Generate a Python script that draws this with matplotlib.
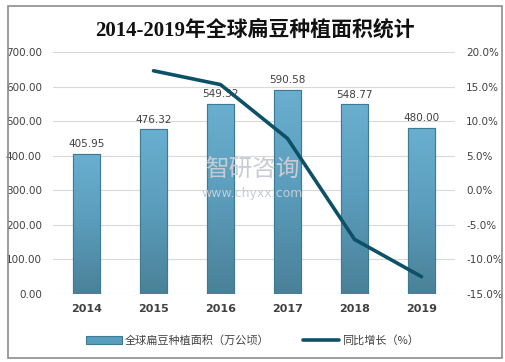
import numpy as np
import matplotlib.pyplot as plt
from matplotlib.colors import LinearSegmentedColormap
from matplotlib.patches import Rectangle

plt.rcParams['font.family'] = ['DejaVu Sans', 'Noto Sans CJK SC']

years = ['2014', '2015', '2016', '2017', '2018', '2019']
area = [405.95, 476.32, 549.32, 590.58, 548.77, 480.00]
growth_years = ['2015', '2016', '2017', '2018', '2019']
growth = [17.3, 15.3, 7.5, -7.1, -12.5]

fig = plt.figure(figsize=(5.05, 3.62), dpi=100)
ax = fig.add_axes([0.105, 0.188, 0.796, 0.668])
ax2 = ax.twinx()

# frame around the whole picture
fig.patches.append(Rectangle((0.015, 0.012), 0.979, 0.972, transform=fig.transFigure,
                             fill=False, edgecolor='#8c8c8c', linewidth=1.2))

x = np.arange(len(years))
w = 0.4
bars = ax.bar(x, area, width=w, color='#5b9dbd', edgecolor='#3f7a95', linewidth=0.8, zorder=2,
              label='全球扁豆种植面积（万公顷）')

# vertical gradient inside each bar
cmap = LinearSegmentedColormap.from_list('b', ['#4a8198', '#5a9cbb', '#6aafd0'])
grad = np.linspace(0, 1, 100).reshape(-1, 1)
for b in bars:
    im = ax.imshow(grad, extent=[b.get_x(), b.get_x() + b.get_width(), 0, b.get_height()],
                   origin='lower', aspect='auto', cmap=cmap, zorder=2.1)
    im.set_clip_path(b)
    ax.add_patch(Rectangle((b.get_x(), 0), b.get_width(), b.get_height(), fill=False,
                           edgecolor='#3f7a95', linewidth=0.8, zorder=2.2))

for xi, v in zip(x, area):
    ax.text(xi, v + 14, f'{v:.2f}', ha='center', va='bottom', fontsize=7.5, color='#404040', zorder=3)

ax.set_xlim(-0.5, len(years) - 0.5)
ax.set_ylim(0, 700)
ax.set_yticks(np.arange(0, 701, 100))
ax.set_yticklabels([f'{v:.2f}' for v in np.arange(0, 701, 100)])
ax.set_xticks(x)
ax.set_xticklabels(years, fontweight='bold')
ax.grid(axis='y', color='#d9d9d9', linewidth=0.8, zorder=0)
ax.set_axisbelow(True)
ax.tick_params(axis='y', length=0, labelsize=7.5, labelcolor='#404040', pad=8)
ax.tick_params(axis='x', length=0, labelsize=8, labelcolor='#404040', pad=7)
ax.set_zorder(ax2.get_zorder() - 1) if False else None

gx = [years.index(y) for y in growth_years]
ax2.plot(gx, growth, color='#0d5166', linewidth=2.6, solid_capstyle='round', zorder=5,
         label='同比增长（%）')
ax2.set_ylim(-15, 20)
ax2.set_yticks(np.arange(-15, 21, 5))
ax2.set_yticklabels([f'{v:.1f}%' for v in np.arange(-15, 21, 5)])
ax2.tick_params(axis='y', length=0, labelsize=7.5, labelcolor='#404040', pad=8)

for a in (ax, ax2):
    for s in a.spines.values():
        s.set_visible(False)

# watermark
fig.text(0.50, 0.53, '智研咨询', fontsize=17, color='#c8ccd2', ha='center', va='center',
         family=['Noto Sans CJK SC'], zorder=1)
fig.text(0.50, 0.465, 'www.chyxx.com', fontsize=9, color='#c8ccd2', ha='center', va='center', zorder=1)

fig.text(0.505, 0.915, '2014-2019年全球扁豆种植面积统计', ha='center', va='center', fontsize=15,
         fontweight='bold', family=['Liberation Serif', 'Noto Sans CJK SC'], color='#111111')

h1, l1 = ax.get_legend_handles_labels()
h2, l2 = ax2.get_legend_handles_labels()
fig.legend(h1 + h2, l1 + l2, loc='center', bbox_to_anchor=(0.5, 0.06), ncol=2, frameon=False,
           fontsize=8, handlelength=3.2, columnspacing=3, handletextpad=0.3,
           labelcolor='#404040', prop={'family': ['Noto Sans CJK SC'], 'size': 8})

fig.savefig('out.png', dpi=100)
